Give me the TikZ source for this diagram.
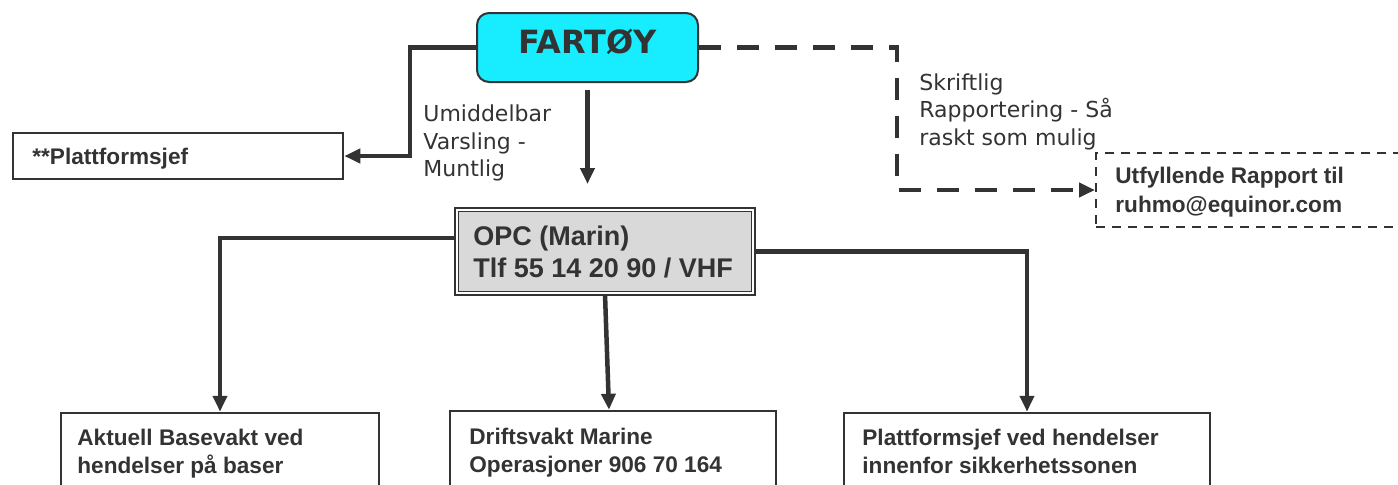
\documentclass[tikz,border=0pt]{standalone}
\usepackage{fontspec}
\setmainfont{Liberation Sans}
\newfontfamily\dejavu{DejaVu Sans}
\usetikzlibrary{arrows.meta}
\definecolor{linec}{RGB}{51,51,51}
\definecolor{cyanfill}{RGB}{24,236,255}
\definecolor{opcfill}{RGB}{217,217,217}
\begin{document}
\begin{tikzpicture}[x=0.5pt,y=-0.5pt,
  box/.style={draw=linec, line width=1.25pt, fill=white, inner sep=0pt, rectangle, minimum height=40pt},
  conn/.style={draw=linec, line width=2.25pt},
  tip/.style={-{Triangle[length=8pt,width=7pt]}},
  dconn/.style={conn, dash pattern=on 11pt off 8pt},
  boldtxt/.style={font=\fontsize{11.3pt}{14pt}\selectfont\bfseries, text=linec, inner sep=0pt, anchor=base west, align=left},
  lbltxt/.style={font=\dejavu\fontsize{11pt}{13.75pt}\selectfont, text=linec, inner sep=0pt, anchor=base west, align=left},
]
\useasboundingbox (0,0) rectangle (1398,484);
\clip (0,0) rectangle (1398,484);

% boxes
\node[draw=linec, line width=1pt, fill=cyanfill, rounded corners=6pt,
      minimum width=110.5pt, minimum height=34.5pt, inner sep=0pt] (fartoy) at (587.5,47.5) {};
\node[box, minimum width=165pt, minimum height=23pt] (plattf) at (178,156) {};
\node[draw=linec, line width=1pt, dash pattern=on 4.5pt off 3.5pt, fill=white,
      minimum width=182pt, minimum height=37pt, inner sep=0pt] (rapport) at (1278,190) {};
\node[draw=linec, line width=0.9pt, double=white, double distance=0.9pt, fill=opcfill,
      minimum width=148.3pt, minimum height=41.8pt, inner sep=0pt] (opc) at (605,251.5) {};
\node[box, minimum width=159pt] (base) at (220,453) {};
\node[box, minimum width=163pt] (drift) at (613,451) {};
\node[box, minimum width=183pt] (sikker) at (1027,453) {};

% texts (base anchor = baseline of the last line)
\node[font=\dejavu\bfseries\fontsize{16pt}{16pt}\selectfont, text=linec, anchor=base, inner sep=0pt]
  (fartoyT) at (587.5,53) {FARTØY};
\node[boldtxt] (plattfT) at (32,164) {**Plattformsjef};
\node[boldtxt, font=\fontsize{11.3pt}{14.5pt}\selectfont\bfseries] (rapportT) at (1115,212)
  {Utfyllende Rapport til\\ruhmo@equinor.com};
\node[boldtxt, font=\fontsize{13.5pt}{16pt}\selectfont\bfseries] (opcT) at (473,277)
  {OPC (Marin)\\Tlf 55 14 20 90 / VHF};
\node[boldtxt] (baseT) at (77,473) {Aktuell Basevakt ved\\hendelser på baser};
\node[boldtxt] (driftT) at (469,472) {Driftsvakt Marine\\Operasjoner 906 70 164};
\node[boldtxt] (sikkerT) at (862,473) {Plattformsjef ved hendelser\\innenfor sikkerhetssonen};
\node[lbltxt] (umidT) at (423,176.5) {Umiddelbar\\Varsling -\\Muntlig};
\node[lbltxt] (skriftT) at (919,145) {Skriftlig\\Rapportering - Så\\raskt som mulig};

% connectors
\coordinate (k1) at (410,156);
\draw[conn,tip] (fartoy.west) -| (k1) -- (plattf.east);
\draw[conn,tip] ([yshift=-3.5pt]fartoy.south) -- ++(0,94);
\coordinate (k2) at (897,190);
\draw[dconn,tip] (fartoy.east) -| (k2) -- (rapport.west);
\draw[conn,tip] ([yshift=6.75pt]opc.west) -| (base.north);
\draw[conn,tip] (opc.east) -| (sikker.north);
\draw[conn,tip] (opc.south) -- ([xshift=-2pt]drift.north);
\end{tikzpicture}
\end{document}
